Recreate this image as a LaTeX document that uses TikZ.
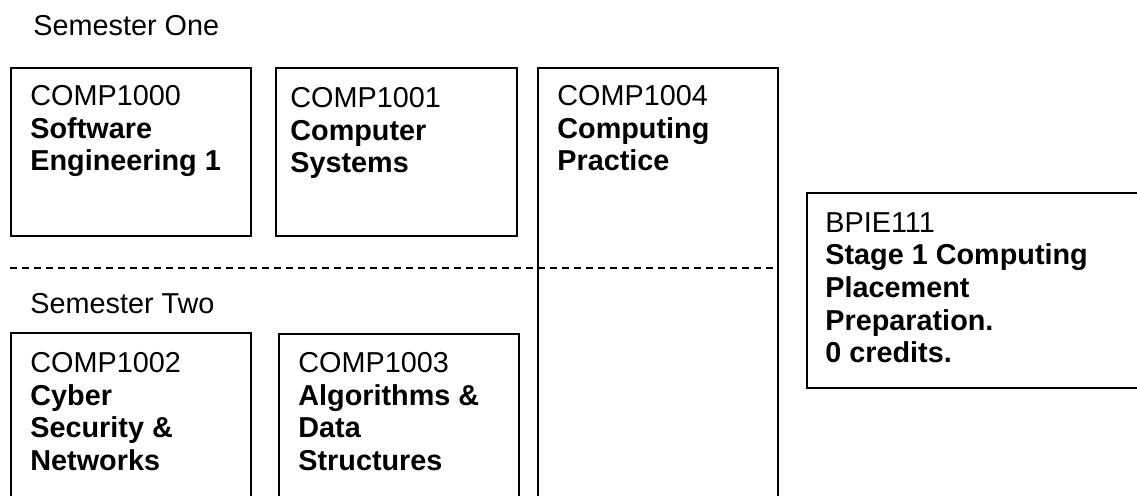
\documentclass[tikz,border=0pt]{standalone}
\usepackage{fontspec}
\setmainfont{Liberation Sans}
\usetikzlibrary{positioning}

\begin{document}
\begin{tikzpicture}[
  x=0.5pt, y=-0.5pt,
  module/.style={draw, line width=0.75pt, anchor=north west, inner sep=0pt,
    minimum width=120pt, minimum height=#1},
  modtext/.style={anchor=north west, inner sep=0pt, align=left,
    font=\fontsize{14.4}{16.3}\selectfont},
  semester/.style={anchor=north west, inner sep=0pt, font=\fontsize{14.4}{16.3}\selectfont},
  split/.style={dash pattern=on 3.5pt off 2.5pt, line width=0.65pt}
]
\useasboundingbox (0,0) rectangle (1137,495);
\clip (0,0) rectangle (1137,495);

% semester one
\node[semester] (sem1) at (33,15) {Semester One};
\node[module=84pt] (c1000) at (10,67) {};
\node[module=84pt, minimum width=120.5pt] (c1001) at (275,67) {};
\node[module=227pt] (c1004) at (537,67) {};
\node[modtext] (t1000) at ([shift={(20,18)}]c1000.north west)
  {COMP1000\\\textbf{Software}\\\textbf{Engineering 1}};
\node[modtext] (t1001) at ([shift={(15,20)}]c1001.north west)
  {COMP1001\\\textbf{Computer}\\\textbf{Systems}};
\node[modtext] (t1004) at ([shift={(20,18)}]c1004.north west)
  {COMP1004\\\textbf{Computing}\\\textbf{Practice}};

% placement
\node[module=97.5pt, minimum width=167pt] (bpie) at (806,192) {};
\node[modtext] (tbpie) at ([shift={(19,20)}]bpie.north west)
  {BPIE111\\\textbf{Stage 1 Computing}\\\textbf{Placement}\\\textbf{Preparation.}\\\textbf{0 credits.}};

% semester two
\coordinate (splitl) at (10,268);
\draw[split] (splitl) -- (splitl -| c1004.east);
\node[semester] (sem2) at (30,293) {Semester Two};
\node[module=94pt] (c1002) at (10,332) {};
\node[module=94pt] (c1003) at (278,333) {};
\node[modtext] (t1002) at ([shift={(20,20)}]c1002.north west)
  {COMP1002\\\textbf{Cyber}\\\textbf{Security \&}\\\textbf{Networks}};
\node[modtext] (t1003) at ([shift={(20,19)}]c1003.north west)
  {COMP1003\\\textbf{Algorithms \&}\\\textbf{Data}\\\textbf{Structures}};
\end{tikzpicture}
\end{document}
